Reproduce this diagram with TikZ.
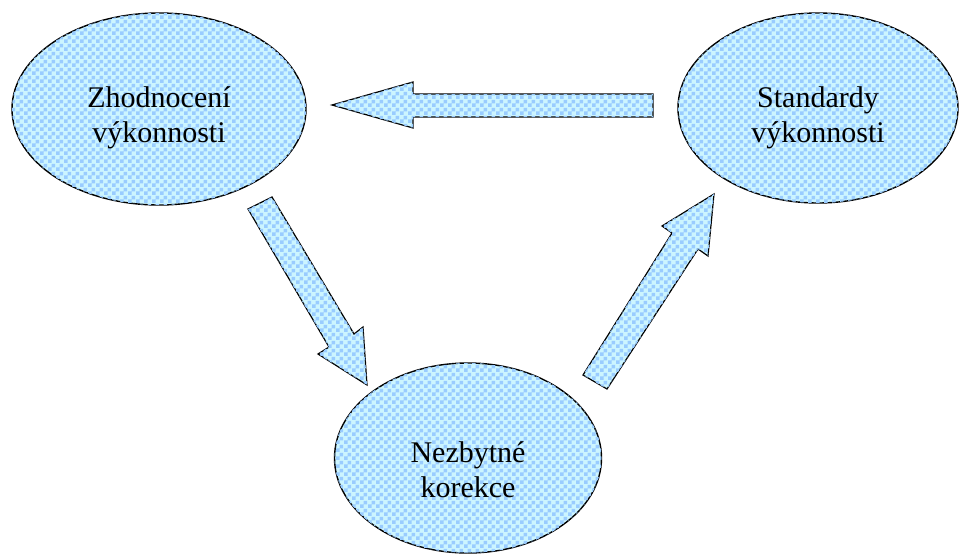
\documentclass[tikz,border=0pt]{standalone}
\usepackage{fontspec}
\setmainfont{Liberation Serif}
\newfontfamily\labelface{Liberation Serif}
\usetikzlibrary{patterns,shapes.geometric}

% small checker texture used for all filled shapes
\pgfdeclarepatternformonly{bluechecker}{\pgfqpoint{0pt}{0pt}}{\pgfqpoint{8pt}{8pt}}{\pgfqpoint{8pt}{8pt}}{%
  \pgfpathrectangle{\pgfqpoint{0pt}{0pt}}{\pgfqpoint{4pt}{4pt}}%
  \pgfpathrectangle{\pgfqpoint{4pt}{4pt}}{\pgfqpoint{4pt}{4pt}}%
  \pgfusepath{fill}}

\definecolor{fillbase}{HTML}{CCF5FF}
\definecolor{fillcheck}{HTML}{99CCFF}

\tikzset{
  textured/.style={fill=fillbase, postaction={pattern=bluechecker, pattern color=fillcheck}},
  bubble/.style={ellipse, draw=black, line width=1.4pt, textured,
    inner sep=0pt, outer sep=0pt},
  caption/.style={align=center, inner sep=0pt,
    font=\labelface\fontsize{30}{35}\selectfont},
  blockarrow/.style={draw=black, line width=1.2pt, line join=miter, textured},
}

\begin{document}
\begin{tikzpicture}[x=1pt,y=-1pt]
\useasboundingbox (0,0) rectangle (961,555);

% the three stages
\node[bubble, minimum width=294pt, minimum height=192pt] (eval) at (159,109) {};
\node[bubble, minimum width=280pt, minimum height=190pt] (std) at (818,108) {};
\node[bubble, minimum width=267pt, minimum height=190pt] (fix) at (468,458) {};

\node[caption] (evaltext) at ([yshift=-9pt]eval.center) {Zhodnocení\\výkonnosti};
\node[caption] (stdtext) at ([yshift=-10pt]std.center) {Standardy\\výkonnosti};
\node[caption] (fixtext) at ([yshift=-12pt]fix.center) {Nezbytné\\korekce};

% block arrows between the stages
\draw[blockarrow] (653,94) -- (413,94) -- (413,82) -- (332,105) -- (413,128)
  -- (413,117) -- (653,117) -- cycle;
\draw[blockarrow] (248,209) -- (272,197) -- (354,334) -- (363,327) -- (367,385)
  -- (318,354) -- (329,347) -- cycle;
\draw[blockarrow] (583,375) -- (672,233) -- (662,226) -- (714,194) -- (708,256)
  -- (698,249) -- (607,389) -- cycle;
\end{tikzpicture}
\end{document}
